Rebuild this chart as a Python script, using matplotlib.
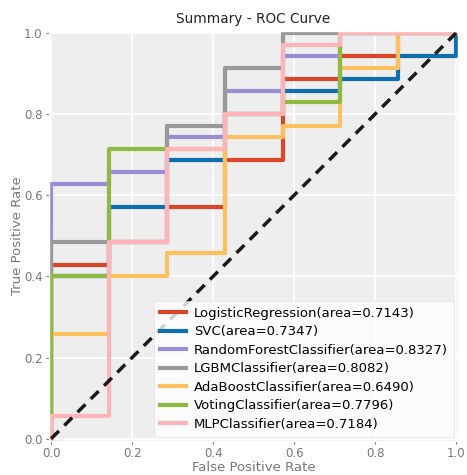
import matplotlib
matplotlib.use("Agg")
import matplotlib.pyplot as plt

plt.style.use("ggplot")

# FPR edges (7 negatives in the test set)
fpr_edges = [0.0, 0.1429, 0.2857, 0.4286, 0.5714, 0.7143, 0.8571, 1.0]

# TPR level on each FPR segment, per model
models = ["LogisticRegression", "SVC", "RandomForestClassifier", "LGBMClassifier",
          "AdaBoostClassifier", "VotingClassifier", "MLPClassifier"]
aucs = [0.7143, 0.7347, 0.8327, 0.8082, 0.6490, 0.7796, 0.7184]
tpr_lr = [0.4286, 0.4857, 0.5714, 0.6857, 0.8857, 0.9429, 1.0]
tpr_svc = [0.4000, 0.5714, 0.6857, 0.8000, 0.8571, 0.8857, 0.9429]
tpr_rf = [0.6286, 0.6571, 0.7429, 0.8571, 0.9429, 1.0, 1.0]
tpr_lgbm = [0.4857, 0.4857, 0.7714, 0.9143, 1.0, 1.0, 1.0]
tpr_ada = [0.2571, 0.4000, 0.4571, 0.7429, 0.7714, 0.9143, 1.0]
tpr_vote = [0.4000, 0.7143, 0.7143, 0.8000, 0.8286, 1.0, 1.0]
tpr_mlp = [0.0571, 0.4857, 0.7143, 0.8000, 0.9714, 1.0, 1.0]
levels = [tpr_lr, tpr_svc, tpr_rf, tpr_lgbm, tpr_ada, tpr_vote, tpr_mlp]

colors = ["#D9462B", "#0F6FAE", "#988ED5", "#999999", "#FBC15E", "#8EBA42", "#FFB5B8"]


def roc_points(edges, lev):
    xs, ys = [0.0], [0.0]
    for i, t in enumerate(lev):
        xs += [edges[i], edges[i + 1]]
        ys += [t, t]
    xs.append(1.0)
    ys.append(1.0)
    return xs, ys


fig = plt.figure(figsize=(4.67, 4.75), dpi=100)
ax = fig.add_axes([0.105, 0.072, 0.876, 0.863])
ax.set_facecolor("#EEEEEE")

for name, auc, lev, c in zip(models, aucs, levels, colors):
    xs, ys = roc_points(fpr_edges, lev)
    ax.plot(xs, ys, color=c, lw=3, label="%s(area=%.4f)" % (name, auc))

ax.plot([0, 1], [0, 1], color="#1a1a1a", lw=2.5, ls=(0, (3.2, 2.2)))

ax.set_xlim(-0.005, 1.005)
ax.set_ylim(-0.005, 1.005)
ax.set_xticks([0, 0.2, 0.4, 0.6, 0.8, 1.0])
ax.set_yticks([0, 0.2, 0.4, 0.6, 0.8, 1.0])
ax.tick_params(labelsize=8.5, colors="#777777", length=2, pad=2.5)
ax.grid(color="white", lw=1.2)
ax.set_xlabel("False Positive Rate", fontsize=9.5, color="#777777", labelpad=1)
ax.set_ylabel("True Positive Rate", fontsize=9.5, color="#777777", labelpad=0)
ax.set_title("Summary - ROC Curve", fontsize=9.8, color="#222222", pad=6)

leg = ax.legend(loc="lower right", fontsize=9.5, facecolor="white", framealpha=0.8,
                edgecolor="#dddddd", handlelength=2.0, labelspacing=0.42,
                borderaxespad=0.3, borderpad=0.45, handletextpad=0.6)
for h in leg.get_lines():
    h.set_linewidth(3)

fig.savefig("out.png", dpi=100)
